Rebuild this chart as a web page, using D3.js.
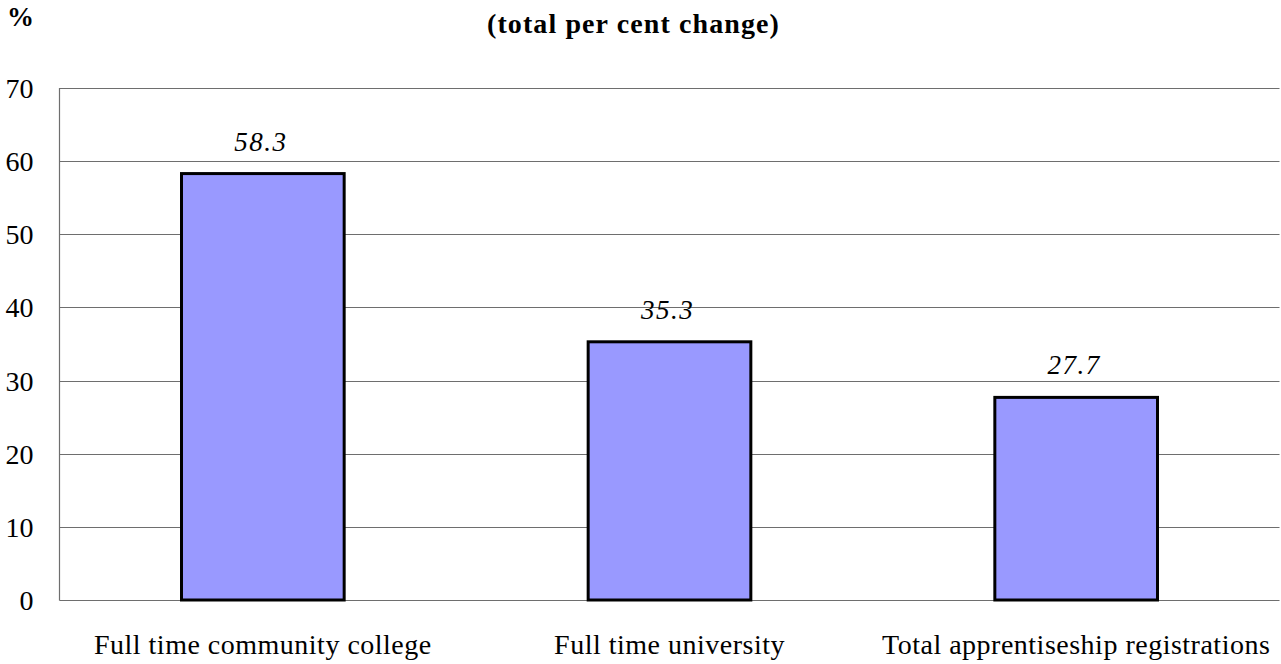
<!DOCTYPE html>
<html>
<head>
<meta charset="utf-8">
<script src="https://cdn.jsdelivr.net/npm/d3@7"></script>
<style>
  html, body { margin: 0; padding: 0; background: #fff; }
  svg { display: block; font-family: "Liberation Serif", "Times New Roman", serif; }
</style>
</head>
<body>
<svg id="chart" width="1281" height="664"></svg>
<script>
// Enrolment growth, total per cent change
const categories = ["Full time community college", "Full time university", "Total apprentiseship registrations"];
const values = [58.3, 35.3, 27.7];
const valueLabels = ["58.3", "35.3", "27.7"];
const yTicks = [0, 10, 20, 30, 40, 50, 60, 70];

const FONT = "'Liberation Serif', 'Times New Roman', serif";
const svg = d3.select("#chart");
const plot = { left: 59.5, right: 1279.5, top: 88, bottom: 600 };

const x = d3.scaleBand()
  .domain(categories)
  .range([plot.left, plot.right])
  .paddingInner(0.6)
  .paddingOuter(0.3);

const y = d3.scaleLinear()
  .domain([0, 70])
  .range([plot.bottom, plot.top]);

// horizontal gridlines
svg.append("g")
  .selectAll("line")
  .data(yTicks)
  .join("line")
  .attr("x1", plot.left)
  .attr("x2", plot.right)
  .attr("y1", d => Math.round(y(d)) + 0.5)
  .attr("y2", d => Math.round(y(d)) + 0.5)
  .attr("stroke", "#6e6e6e")
  .attr("stroke-width", 1.2);

// left axis line
svg.append("line")
  .attr("x1", plot.left).attr("x2", plot.left)
  .attr("y1", plot.top).attr("y2", plot.bottom + 0.5)
  .attr("stroke", "#6e6e6e")
  .attr("stroke-width", 1.2);

// y tick labels
const yAxis = d3.axisLeft(y).tickValues(yTicks).tickSize(0).tickPadding(0);
const yg = svg.append("g")
  .attr("transform", `translate(${plot.left - 26},0)`)
  .call(yAxis);
yg.select(".domain").remove();
yg.attr("font-family", FONT);
yg.selectAll("text")
  .attr("font-family", FONT)
  .attr("font-size", 28)
  .attr("fill", "#000")
  .attr("dy", "0.34em");

// bars
svg.append("g")
  .selectAll("rect")
  .data(values)
  .join("rect")
  .attr("x", (d, i) => x(categories[i]))
  .attr("y", d => y(d))
  .attr("width", x.bandwidth())
  .attr("height", d => y(0) - y(d))
  .attr("fill", "#9999ff")
  .attr("stroke", "#000")
  .attr("stroke-width", 3);

// value labels
svg.append("g")
  .selectAll("text")
  .data(values)
  .join("text")
  .attr("x", (d, i) => x(categories[i]) + x.bandwidth() / 2 - 2)
  .attr("y", d => y(d) - 23)
  .attr("text-anchor", "middle")
  .attr("font-style", "italic")
  .attr("font-size", 27)
  .attr("letter-spacing", 1.5)
  .text((d, i) => valueLabels[i]);

// category labels
const xAxis = d3.axisBottom(x).tickSize(0).tickPadding(0);
const xg = svg.append("g")
  .attr("transform", `translate(0,${plot.bottom})`)
  .call(xAxis);
xg.select(".domain").remove();
xg.attr("font-family", FONT);
xg.selectAll("text")
  .attr("font-family", FONT)
  .attr("font-size", 28)
  .attr("letter-spacing", 0.5)
  .attr("fill", "#000")
  .attr("dy", 0)
  .attr("y", 54);

// unit label and title
svg.append("text")
  .attr("x", 7).attr("y", 26)
  .attr("font-weight", "bold")
  .attr("font-size", 27)
  .text("%");

svg.append("text")
  .attr("x", 633.5).attr("y", 33)
  .attr("text-anchor", "middle")
  .attr("font-weight", "bold")
  .attr("font-size", 28)
  .attr("letter-spacing", 1.1)
  .text("(total per cent change)");
</script>
</body>
</html>
